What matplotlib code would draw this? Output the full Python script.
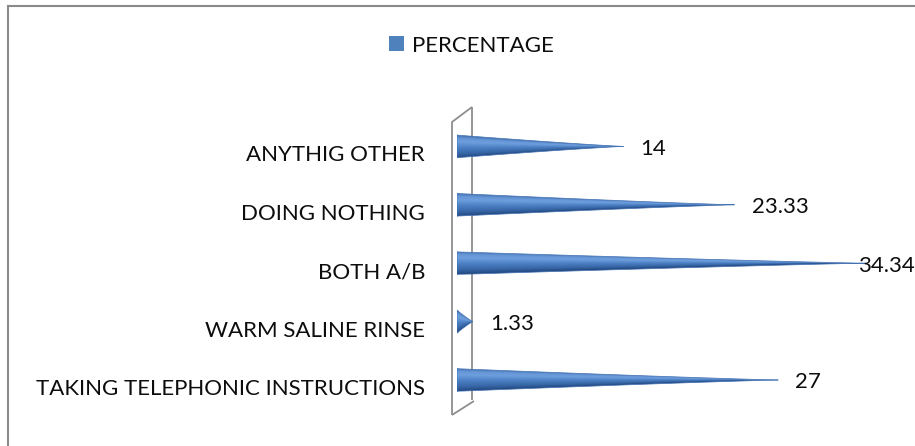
import numpy as np
import matplotlib
matplotlib.use("Agg")
import matplotlib.pyplot as plt
from matplotlib.colors import LinearSegmentedColormap
from matplotlib.patches import Polygon, Rectangle, Ellipse, Patch
from matplotlib.lines import Line2D

# ---- data ----
categories = ["TAKING TELEPHONIC INSTRUCTIONS", "WARM SALINE RINSE", "BOTH A/B",
              "DOING NOTHING", "ANYTHIG OTHER"]
percentages = [27, 1.33, 34.34, 23.33, 14]
value_labels = ["27", "1.33", "34.34", "23.33", "14"]
series_name = "PERCENTAGE"

FONT = ["Lato", "DejaVu Sans"]
plt.rcParams["font.family"] = FONT
FS = 16
TXT = "#0d0d0d"

W, H = 915, 446
fig = plt.figure(figsize=(W / 100, H / 100), dpi=100)
fig.patch.set_facecolor("white")


def fx(px):
    return px / W


def fy(py):
    return 1 - py / H


# ---- plot area geometry ----
x0_px, x1_px = 457, 905
top_px, bot_px = 100, 430
px_per_unit = 11.9
row0_px, row_step = 387, 58.4

ax = fig.add_axes([fx(x0_px), fy(bot_px), (x1_px - x0_px) / W, (bot_px - top_px) / H])
ax.set_xlim(0, (x1_px - x0_px) / px_per_unit)
ax.patch.set_visible(False)
for sp in ax.spines.values():
    sp.set_visible(False)
ax.set_xticks([])
ax.set_yticks(range(len(categories)), categories)
ax.tick_params(axis="y", length=0, pad=23, labelsize=FS, labelcolor=TXT)

# ---- outer chart border ----
fig.patches.append(Rectangle((fx(7.5), fy(H + 20)), 2.0, fy(5.5) - fy(H + 20),
                             transform=fig.transFigure, fill=False,
                             edgecolor="#8a8a8a", linewidth=1.5))

# ---- 3-D side wall ----
wall_col = "#8e8e8e"
def wall(xs, ys, z):
    ax.add_line(Line2D([fx(x) for x in xs], [fy(y) for y in ys],
                       transform=fig.transFigure, color=wall_col, lw=1.3,
                       clip_on=False, zorder=z, solid_capstyle="butt"))

wall([472, 472], [107, 400], 0.5)          # back edge (behind the cones)
wall([452, 452, 472], [415, 122, 107], 0.5)
wall([452, 474], [415, 401], 0.5)

# ---- cones ----
cone_cmap = LinearSegmentedColormap.from_list(
    "cone",
    [(0.0, "#244a82"), (0.18, "#3766a6"), (0.45, "#4c80c4"),
     (0.70, "#6d9edd"), (0.86, "#6796d6"), (1.0, "#4271b2")])

half_h = 11.3 / row_step     # cone radius at its base
lift = 7.0 / row_step        # cones sit slightly above the label row
base_w = 7.0 / px_per_unit
taper = 1.12

for i, v in enumerate(percentages):
    yc = i + lift
    xs = np.linspace(0, v, 300)
    prof = half_h * (1 - xs / v) ** taper
    verts = np.column_stack([np.r_[xs, xs[::-1]], np.r_[yc + prof, (yc - prof)[::-1]]])
    poly = Polygon(verts, closed=True, facecolor="none", edgecolor="#4473b3",
                   lw=0.5, zorder=3)
    ax.add_patch(poly)

    base = Ellipse((0, yc), base_w, 2 * half_h, facecolor="#4577b8",
                   edgecolor="#3d6dab", lw=0.5, zorder=1.8)
    ax.add_patch(base)

    gx = np.linspace(0, v, 500)
    gy = np.linspace(yc - half_h, yc + half_h, 80)
    GX, GY = np.meshgrid(gx, gy)
    hh = half_h * np.clip(1 - GX / v, 1e-4, None) ** taper
    s = np.clip((GY - yc) / hh, -1, 1)
    rgba = cone_cmap((s + 1) / 2)
    im = ax.imshow(rgba, extent=(0, v, yc - half_h, yc + half_h), origin="lower",
                   aspect="auto", interpolation="bilinear", zorder=2)
    clip = Polygon(verts, closed=True, transform=ax.transData)
    im.set_clip_path(clip)

# ---- value labels ----
label_shift = 17 / px_per_unit
label_max = (858 - x0_px) / px_per_unit
for i, (v, t) in enumerate(zip(percentages, value_labels)):
    ax.text(min(v + label_shift, label_max), i + 0.08, t, ha="left", va="center",
            fontsize=FS, color=TXT, zorder=4)

# ---- legend ----
fig.legend(handles=[Patch(facecolor="#4f81bd", edgecolor="none", label=series_name)],
           loc="center", bbox_to_anchor=(fx(471), fy(45.5)), frameon=False,
           handlelength=0.68, handleheight=0.68, handletextpad=0.35,
           prop={"family": FONT, "size": FS}, labelcolor=TXT)

ax.set_ylim((row0_px - bot_px) / row_step, (row0_px - top_px) / row_step)
fig.savefig("out.png", dpi=100, facecolor="white")
